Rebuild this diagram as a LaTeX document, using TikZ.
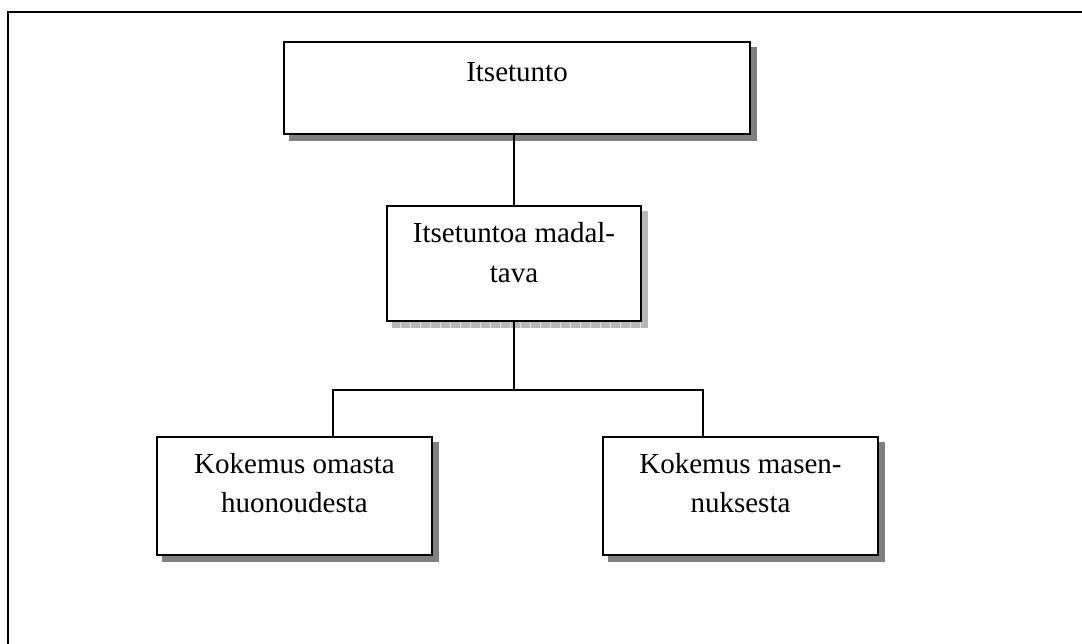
\documentclass[tikz,border=0pt]{standalone}
\usepackage{fontspec}
\setmainfont{Liberation Serif}
\usetikzlibrary{backgrounds,calc}
\begin{document}
\begin{tikzpicture}[x=1pt,y=-1pt,
  box/.style={draw=black, fill=white, line width=1.8pt, inner sep=0pt, anchor=center},
  lbl/.style={font=\fontsize{29}{39.5}\selectfont, align=center, anchor=base, inner sep=0pt},
  conn/.style={line width=1.5pt},
  darkshadow/.style={fill=black!50},
  lightshadow/.style={fill=black!28},
  frame/.style={line width=2pt}
  ]
\useasboundingbox (0,0) rectangle (1082,644);
% outer frame (continues beyond the picture)
\draw[frame] (8,644) -- (8,12) -- (1082,12);

% boxes
\node[box, minimum width=466pt, minimum height=92pt] (top) at (517,88) {};
\node[box, minimum width=254pt, minimum height=115pt] (mid) at (514,263.5) {};
\node[box, minimum width=275pt, minimum height=118pt] (left) at (294.5,496) {};
\node[box, minimum width=275pt, minimum height=118pt] (right) at (740.5,496) {};

% texts (base anchor = baseline of the last line)
\node[lbl] (ttop) at (517,82) {Itsetunto};
\node[lbl] (tmid) at (514,282.5) {Itsetuntoa madal-\\tava};
\node[lbl] (tleft) at (294.5,512.5) {Kokemus omasta\\huonoudesta};
\node[lbl] (tright) at (740.5,512.5) {Kokemus masen-\\nuksesta};

% connectors
\coordinate (jl) at (333,390);
\coordinate (jr) at (703,390);
\draw[conn] (mid.north |- top.south) -- (mid.north);
\draw[conn] (mid.south) -- (mid.south |- jl);
\draw[conn] (jl |- left.north) -- (jl) -- (jr) -- (jr |- right.north);

% shadows
\begin{scope}[on background layer]
  \fill[white] (0,0) rectangle (1082,644);
  \fill[darkshadow] ([shift={(6,6)}]top.south west) rectangle ([shift={(6,6)}]top.north east);
  \fill[darkshadow] ([shift={(6,6)}]left.south west) rectangle ([shift={(6,6)}]left.north east);
  \fill[darkshadow] ([shift={(6,6)}]right.south west) rectangle ([shift={(6,6)}]right.north east);
  \fill[lightshadow] ([shift={(6,6)}]mid.south west) rectangle ([shift={(6,6)}]mid.north east);
  \draw[black!12, line width=0.5pt, step=10] ([shift={(6,6)}]mid.north west) grid ([shift={(6,6)}]mid.south east);
\end{scope}
\end{tikzpicture}
\end{document}
